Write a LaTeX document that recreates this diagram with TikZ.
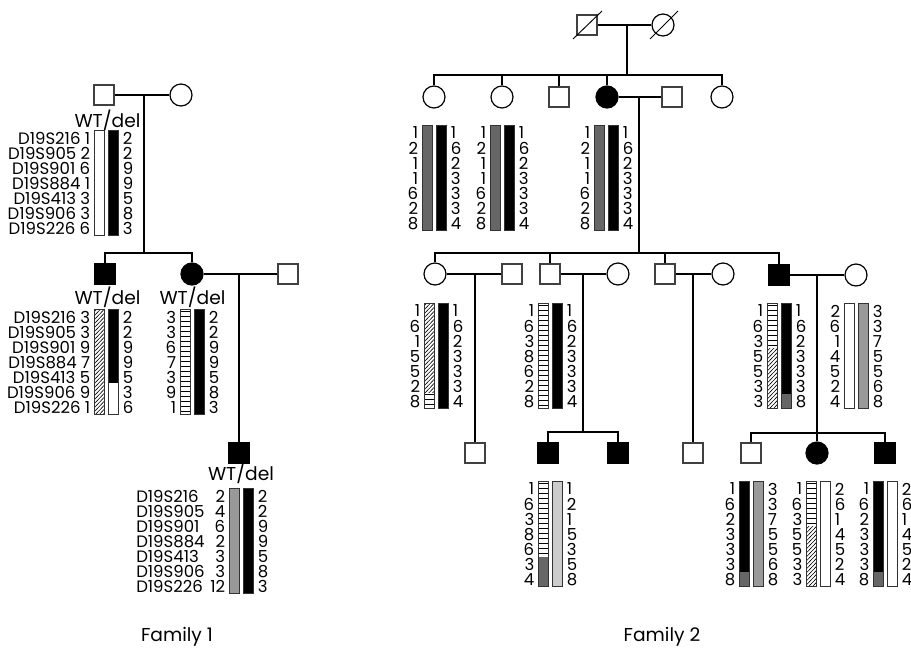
\documentclass[tikz,border=0pt]{standalone}
\usepackage{fontspec}
\setmainfont{Poppins}
\definecolor{dgrey}{gray}{0.4}
\definecolor{mgrey}{gray}{0.6}
\definecolor{lgrey}{gray}{0.8}
\tikzset{
  pl/.style={line width=0.9pt},
  male/.style={rectangle, draw=black!75, line width=0.9pt, minimum size=15pt, inner sep=0pt, fill=white},
  female/.style={circle, draw=black, line width=0.9pt, minimum size=16.5pt, inner sep=0pt, fill=white},
  aff/.style={fill=black, draw=black},
  num/.style={inner sep=0pt, font=\fontsize{12.4}{13}\selectfont},
  wt/.style={inner sep=0pt, font=\fontsize{14}{15}\selectfont},
  fam/.style={inner sep=0pt, font=\fontsize{14}{15}\selectfont},
  barline/.style={draw=black!80, line width=0.6pt},
  thinl/.style={line width=0.45pt},
}
% bar segments: x, top, row from, row to, (colour)
\newcommand{\fillseg}[5]{\fill[#5] (#1,{#2+15.1*#3}) rectangle ({#1+10.5},{#2+15.1*#4});}
\newcommand{\hatchseg}[4]{\begin{scope}\clip (#1,{#2+15.1*#3}) rectangle ({#1+10.5},{#2+15.1*#4});
  \foreach \s in {-12,-8,...,124} {\draw[thinl] (#1,{#2+15.1*#3+\s+11}) -- ({#1+10.5},{#2+15.1*#3+\s});}
  \end{scope}}
\newcommand{\stripeseg}[4]{\begin{scope}\clip (#1,{#2+15.1*#3}) rectangle ({#1+10.5},{#2+15.1*#4});
  \foreach \s in {2.6,7.6,...,110} {\draw[thinl] (#1,{#2+15.1*#3+\s}) -- ({#1+10.5},{#2+15.1*#3+\s});}
  \end{scope}}
\newcommand{\barbox}[2]{\draw[barline] (#1,#2) rectangle ({#1+10.5},{#2+105.7});}
% numbers: x1 of first bar, top, left list, right list, name
\newcommand{\hapnums}[5]{%
  \foreach \v [count=\i from 0] in {#3} {\node[num,anchor=east] (#5l\i) at ({#1-3.5},{#2+8+15.1*\i}) {\v};}
  \foreach \v [count=\i from 0] in {#4} {\node[num,anchor=west] (#5r\i) at ({#1+28.5},{#2+8+15.1*\i}) {\v};}}
\begin{document}
\begin{tikzpicture}[x=0.75pt,y=-0.75pt]
\useasboundingbox (0,0) rectangle (911,654);

%================ FAMILY 1 =================
\node[male] (f1a) at (104,95) {};
\node[female] (f1b) at (181,95) {};
\draw[pl] (f1a.east) -- (f1b.west);
\coordinate (f1m) at (144,95);
\coordinate (f1s) at (144,253);
\node[male,aff] (f1c) at (105,274) {};
\node[female,aff] (f1d) at (192,274) {};
\node[male] (f1e) at (288,274) {};
\draw[pl] (f1m) -- (f1s);
\draw[pl] (f1c.north) |- (f1s) -| (f1d.north);
\draw[pl] (f1d.east) -- (f1e.west);
\node[male,aff] (f1f) at (239,453) {};
\coordinate (f1m2) at (239,274);
\draw[pl] (f1m2) -- (f1f.north);

\node[wt] (wt1) at (107.5,120) {WT/del};
\node[wt] (wt2) at (107.5,297) {WT/del};
\node[wt] (wt3) at (192.5,297) {WT/del};
\node[wt] (wt4) at (241,473) {WT/del};

% gen I
\fillseg{94}{130}{0}{7}{white}\fillseg{108}{130}{0}{7}{black}
\barbox{94}{130}\barbox{108}{130}
\hapnums{94}{130}{D19S216 1,D19S905 2,D19S901 6,D19S884 1,D19S413 3,D19S906 3,D19S226 6}{2,2,9,9,5,8,3}{h1}
% gen II son
\hatchseg{94}{309}{0}{7}
\fillseg{108}{309}{0}{4.9}{black}
\barbox{94}{309}\barbox{108}{309}
\hapnums{94}{309}{D19S216 3,D19S905 3,D19S901 9,D19S884 7,D19S413 5,D19S906 9,D19S226 1}{2,2,9,9,5,3,6}{h2}
% gen II daughter
\stripeseg{180}{309}{0}{7}
\fillseg{194}{309}{0}{7}{black}
\barbox{180}{309}\barbox{194}{309}
\hapnums{180}{309}{3,3,6,7,3,9,1}{2,2,9,9,5,8,3}{h3}
% gen III
\fillseg{229}{488}{0}{7}{mgrey}\fillseg{243}{488}{0}{7}{black}
\barbox{229}{488}\barbox{243}{488}
\hapnums{229}{488}{2,4,6,2,3,3,12}{2,2,9,9,5,8,3}{h4}
\foreach \t [count=\i from 0] in {D19S216,D19S905,D19S901,D19S884,D19S413,D19S906,D19S226}
  {\node[num,anchor=west] (mk\i) at (136,{488+8+15.1*\i}) {\t};}

\node[fam] (fam1) at (177,637) {Family 1};

%================ FAMILY 2 =================
\node[male] (g1a) at (587,25) {};
\node[female] (g1b) at (663,25) {};
\draw[pl] (g1a.east) -- (g1b.west);
\draw[line width=0.7pt] (573,39) -- (602,11);
\draw[line width=0.7pt] (650,39) -- (678,11);
\coordinate (g1m) at (627,25);
\coordinate (g1s) at (627,75);
\draw[pl] (g1m) -- (g1s);

\node[female] (g2a) at (434,97) {};
\node[female] (g2b) at (502,97) {};
\node[male] (g2c) at (559,97) {};
\node[female,aff] (g2d) at (607,97) {};
\node[male] (g2e) at (672,97) {};
\node[female] (g2f) at (722,97) {};
\draw[pl] (g2a.north) |- (g2f.north |- g1s) -- (g2f.north);
\draw[pl] (g2b.north) -- (g2b.north |- g1s);
\draw[pl] (g2c.north) -- (g2c.north |- g1s);
\draw[pl] (g2d.north) -- (g2d.north |- g1s);
\draw[pl] (g2d.east) -- (g2e.west);
\coordinate (g2m) at (639,97);
\coordinate (g2s) at (639,253);
\draw[pl] (g2m) -- (g2s);

% gen II haplotypes
\foreach \x [count=\k] in {422,490,594} {
  \fillseg{\x}{125}{0}{7}{dgrey}\fillseg{\x+14}{125}{0}{7}{black}
  \barbox{\x}{125}\barbox{\x+14}{125}
  \hapnums{\x}{125}{1,2,1,1,6,2,8}{1,6,2,3,3,3,4}{hg\k}
}

% gen III
\node[female] (g3a) at (435,274) {};
\node[male] (g3b) at (512,274) {};
\node[male] (g3c) at (550,274) {};
\node[female] (g3d) at (618,274) {};
\node[male] (g3e) at (665,274) {};
\node[female] (g3f) at (723,274) {};
\node[male,aff] (g3g) at (779,275) {};
\node[female] (g3h) at (856,275) {};
\draw[pl] (g3a.north) |- (g3g.north |- g2s) -- (g3g.north);
\draw[pl] (g3c.north) -- (g3c.north |- g2s);
\draw[pl] (g3e.north) -- (g3e.north |- g2s);
\draw[pl] (g3a.east) -- (g3b.west);
\draw[pl] (g3c.east) -- (g3d.west);
\draw[pl] (g3e.east) -- (g3f.west);
\draw[pl] (g3g.east) -- (g3h.west);

% gen IV
\node[male] (g4a) at (475,453) {};
\node[male,aff] (g4b) at (548,453) {};
\node[male,aff] (g4c) at (618,453) {};
\node[male] (g4d) at (693,453) {};
\node[male] (g4e) at (751,453) {};
\node[female,aff] (g4f) at (817,453) {};
\node[male,aff] (g4g) at (885,453) {};
\coordinate (g3m1) at (475,274);
\coordinate (g3m2) at (583,274);
\coordinate (g3s2) at (583,432);
\coordinate (g3m3) at (693,274);
\coordinate (g3m4) at (817,275);
\coordinate (g3s4) at (817,433);
\draw[pl] (g3m1) -- (g4a.north);
\draw[pl] (g3m2) -- (g3s2);
\draw[pl] (g4b.north) |- (g3s2) -| (g4c.north);
\draw[pl] (g3m3) -- (g4d.north);
\draw[pl] (g3m4) -- (g3s4);
\draw[pl] (g4e.north) |- (g3s4) -| (g4g.north);
\draw[pl] (g3s4) -- (g4f.north);

% gen III haplotypes
\hatchseg{424}{303}{0}{5.9}\stripeseg{424}{303}{5.9}{7}
\fillseg{438}{303}{0}{7}{black}
\barbox{424}{303}\barbox{438}{303}
\hapnums{424}{303}{1,6,1,5,5,2,8}{1,6,2,3,3,3,4}{k1}

\stripeseg{538}{303}{0}{7}
\fillseg{552}{303}{0}{7}{black}
\barbox{538}{303}\barbox{552}{303}
\hapnums{538}{303}{1,6,3,8,6,2,8}{1,6,2,3,3,3,4}{k2}

\stripeseg{767}{303}{0}{3}\hatchseg{767}{303}{3}{7}
\fillseg{781}{303}{0}{6}{black}\fillseg{781}{303}{6}{7}{dgrey}
\barbox{767}{303}\barbox{781}{303}
\hapnums{767}{303}{1,6,3,5,5,3,3}{1,6,2,3,3,3,8}{k3}

\fillseg{844}{303}{0}{7}{white}\fillseg{858}{303}{0}{7}{mgrey}
\barbox{844}{303}\barbox{858}{303}
\hapnums{844}{303}{2,6,1,4,5,2,4}{3,3,7,5,5,6,8}{k4}

% gen IV haplotypes
\stripeseg{538}{481}{0}{5}\fillseg{538}{481}{5}{7}{dgrey}
\fillseg{552}{481}{0}{7}{lgrey}
\barbox{538}{481}\barbox{552}{481}
\hapnums{538}{481}{1,6,3,8,6,3,4}{1,2,1,5,3,5,8}{m1}

\fillseg{739}{481}{0}{6}{black}\fillseg{739}{481}{6}{7}{dgrey}
\fillseg{753}{481}{0}{7}{mgrey}
\barbox{739}{481}\barbox{753}{481}
\hapnums{739}{481}{1,6,2,3,3,3,8}{3,3,7,5,5,6,8}{m2}

\stripeseg{806}{481}{0}{3}\hatchseg{806}{481}{3}{7}
\fillseg{820}{481}{0}{7}{white}
\barbox{806}{481}\barbox{820}{481}
\hapnums{806}{481}{1,6,3,5,5,3,3}{2,6,1,4,5,2,4}{m3}

\fillseg{873}{481}{0}{6}{black}\fillseg{873}{481}{6}{7}{dgrey}
\fillseg{887}{481}{0}{7}{white}
\barbox{873}{481}\barbox{887}{481}
\hapnums{873}{481}{1,6,2,3,3,3,8}{2,6,1,4,5,2,4}{m4}

\node[fam] (fam2) at (662,637) {Family 2};
\end{tikzpicture}
\end{document}
